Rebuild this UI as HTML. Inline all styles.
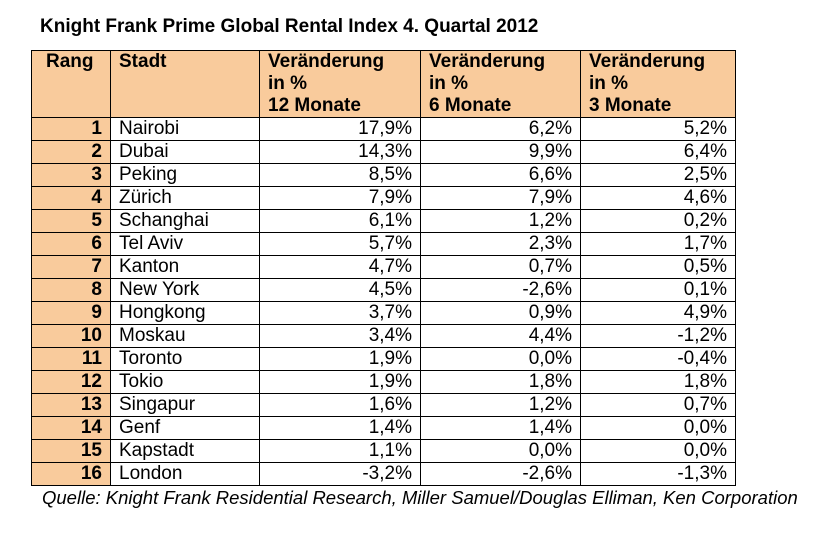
<!DOCTYPE html>
<html><head><meta charset="utf-8"><style>
body{margin:0;width:839px;height:547px;background:#fff;font-family:"Liberation Sans",Arial,sans-serif;position:relative;overflow:hidden}
#title{position:absolute;left:40px;top:16px;font-size:19px;font-weight:bold}
table{position:absolute;left:31px;top:50px;border-collapse:collapse;table-layout:fixed}
td,th{border:1.5px solid #000;padding:0 8px;font-size:19px;height:22px;line-height:20px;white-space:nowrap;overflow:hidden}
th{background:#f9cb9c;text-align:left;vertical-align:top;height:65px;line-height:22px;padding-top:0}
td.r{background:#f9cb9c;font-weight:bold;text-align:right}
td.n{text-align:right}
#src{position:absolute;left:42px;top:487px;font-size:18.5px;font-style:italic;white-space:nowrap}
</style></head><body>
<div id="title">Knight Frank Prime Global Rental Index 4. Quartal 2012</div>
<table>
<colgroup><col style="width:79px"><col style="width:149px"><col style="width:161px"><col style="width:160px"><col style="width:155px"></colgroup>
<thead><tr>
<th style="padding-left:14px">Rang</th>
<th>Stadt</th>
<th>Veränderung<br>in %<br>12 Monate</th>
<th>Veränderung<br>in %<br>6 Monate</th>
<th>Veränderung<br>in %<br>3 Monate</th>
</tr></thead>
<tbody id="tb"></tbody></table>
<div id="src">Quelle: Knight Frank Residential Research, Miller Samuel/Douglas Elliman, Ken Corporation</div>
<script>
const cities=["Nairobi","Dubai","Peking","Zürich","Schanghai","Tel Aviv","Kanton","New York","Hongkong","Moskau","Toronto","Tokio","Singapur","Genf","Kapstadt","London"];
const m12=["17,9%","14,3%","8,5%","7,9%","6,1%","5,7%","4,7%","4,5%","3,7%","3,4%","1,9%","1,9%","1,6%","1,4%","1,1%","-3,2%"];
const m6=["6,2%","9,9%","6,6%","7,9%","1,2%","2,3%","0,7%","-2,6%","0,9%","4,4%","0,0%","1,8%","1,2%","1,4%","0,0%","-2,6%"];
const m3=["5,2%","6,4%","2,5%","4,6%","0,2%","1,7%","0,5%","0,1%","4,9%","-1,2%","-0,4%","1,8%","0,7%","0,0%","0,0%","-1,3%"];
const tb=document.getElementById('tb');
cities.forEach((c,i)=>{
 const tr=document.createElement('tr');
 
 
 const vals=[[String(i+1),'r','rank'],[c,'','city'],[m12[i],'n','change-12m'],[m6[i],'n','change-6m'],[m3[i],'n','change-3m']];
 vals.forEach(v=>{
  const td=document.createElement('td');
  td.textContent=v[0];
  if(v[1])td.className=v[1];
  
  
  tr.appendChild(td);
 });
 tb.appendChild(tr);
});
</script>
</body></html>
